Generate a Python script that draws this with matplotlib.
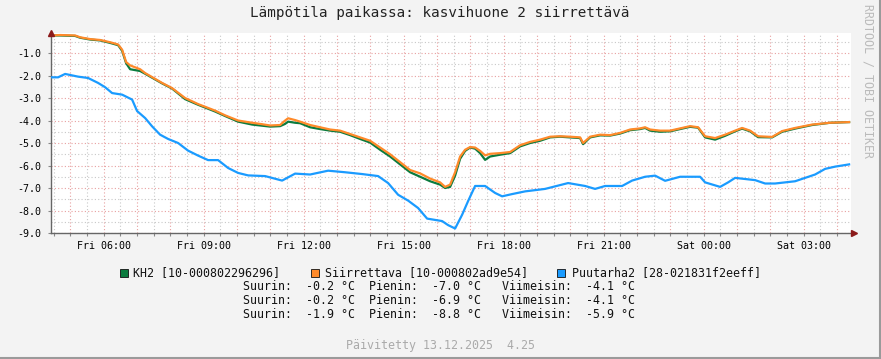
import matplotlib
matplotlib.use("Agg")
import matplotlib.pyplot as plt
from matplotlib.patches import Rectangle
from matplotlib.lines import Line2D

# hours since Fri 00:00 (graph covers Fri 04:25 -> Sat 04:25)
t_start = 4.4167
t_end = 28.4167

# KH2 and Siirrettava share sample times
t_kh = [4.42, 4.69, 5.14, 5.29, 5.59, 5.89, 6.19, 6.43, 6.55, 6.67, 6.79, 7.09,
        7.24, 7.75, 8.05, 8.44, 8.83, 9.34, 9.64, 10.03, 10.45, 10.69, 10.99,
        11.29, 11.44, 11.53, 11.74, 11.89, 12.19, 12.49, 12.79, 13.09, 13.39,
        13.69, 13.99, 14.29, 14.59, 14.89, 15.19, 15.49, 15.79, 16.09, 16.24,
        16.39, 16.54, 16.69, 16.84, 16.99, 17.14, 17.29, 17.44, 17.59, 17.89,
        18.19, 18.49, 18.79, 19.09, 19.39, 19.69, 19.99, 20.29, 20.38, 20.59,
        20.89, 21.19, 21.49, 21.79, 22.09, 22.24, 22.39, 22.69, 22.99, 23.29,
        23.59, 23.83, 24.04, 24.34, 24.64, 24.94, 25.15, 25.39, 25.63, 26.05,
        26.35, 26.74, 27.25, 27.79, 28.36]

siirrettava = [-0.22, -0.2, -0.22, -0.3, -0.38, -0.42, -0.52, -0.62, -0.85, -1.4,
               -1.55, -1.72, -1.89, -2.33, -2.56, -3.0, -3.27, -3.56, -3.77, -4.0,
               -4.1, -4.15, -4.22, -4.2, -4.0, -3.9, -3.98, -4.05, -4.2, -4.3,
               -4.4, -4.45, -4.6, -4.75, -4.9, -5.2, -5.5, -5.85, -6.2, -6.35,
               -6.58, -6.75, -6.95, -6.85, -6.3, -5.6, -5.3, -5.18, -5.2, -5.35,
               -5.55, -5.48, -5.45, -5.4, -5.1, -4.95, -4.85, -4.72, -4.7, -4.72,
               -4.75, -5.0, -4.72, -4.63, -4.65, -4.55, -4.4, -4.35, -4.3, -4.4,
               -4.45, -4.45, -4.35, -4.25, -4.3, -4.7, -4.78, -4.63, -4.45, -4.33,
               -4.45, -4.7, -4.73, -4.47, -4.33, -4.18, -4.1, -4.07]

kh2 = [-0.22, -0.22, -0.24, -0.32, -0.4, -0.44, -0.55, -0.65, -0.9, -1.45,
       -1.72, -1.8, -1.92, -2.35, -2.58, -3.05, -3.3, -3.6, -3.8, -4.05,
       -4.18, -4.22, -4.27, -4.25, -4.15, -4.05, -4.1, -4.12, -4.3, -4.38,
       -4.45, -4.5, -4.65, -4.82, -4.98, -5.3, -5.6, -5.95, -6.3, -6.5,
       -6.7, -6.85, -7.0, -6.95, -6.45, -5.7, -5.35, -5.2, -5.25, -5.45,
       -5.75, -5.6, -5.52, -5.45, -5.15, -5.0, -4.9, -4.75, -4.72, -4.75,
       -4.78, -5.05, -4.75, -4.66, -4.67, -4.58, -4.43, -4.38, -4.33, -4.45,
       -4.5, -4.48, -4.38, -4.28, -4.32, -4.75, -4.85, -4.68, -4.48, -4.36,
       -4.48, -4.74, -4.75, -4.5, -4.36, -4.2, -4.1, -4.07]

t_pu = [4.42, 4.63, 4.84, 5.23, 5.53, 5.83, 6.04, 6.25, 6.55, 6.85, 7.0, 7.24,
        7.45, 7.69, 7.93, 8.23, 8.53, 8.83, 9.13, 9.43, 9.73, 10.03, 10.33,
        10.84, 11.35, 11.74, 12.19, 12.73, 13.24, 13.75, 14.23, 14.53, 14.83,
        15.13, 15.43, 15.70, 16.15, 16.33, 16.54, 16.75, 16.93, 17.14, 17.44,
        17.74, 17.95, 18.25, 18.64, 19.24, 19.93, 20.44, 20.74, 21.04, 21.55,
        21.85, 22.24, 22.54, 22.84, 23.29, 23.89, 24.04, 24.49, 24.73, 24.94,
        25.54, 25.84, 26.14, 26.74, 27.04, 27.34, 27.64, 27.94, 28.36]

puutarha2 = [-2.08, -2.08, -1.93, -2.05, -2.11, -2.33, -2.52, -2.78, -2.85, -3.07,
             -3.58, -3.89, -4.26, -4.63, -4.82, -5.0, -5.34, -5.56, -5.76, -5.76,
             -6.11, -6.33, -6.44, -6.47, -6.67, -6.36, -6.4, -6.23, -6.3, -6.38,
             -6.47, -6.78, -7.3, -7.56, -7.89, -8.36, -8.47, -8.65, -8.8, -8.19,
             -7.58, -6.91, -6.91, -7.22, -7.37, -7.27, -7.15, -7.04, -6.78, -6.91,
             -7.04, -6.91, -6.91, -6.67, -6.5, -6.45, -6.68, -6.5, -6.5, -6.75,
             -6.95, -6.75, -6.55, -6.65, -6.8, -6.8, -6.7, -6.55, -6.4, -6.15,
             -6.05, -5.95]

tick_hours = [6, 9, 12, 15, 18, 21, 24, 27]
tick_labels = ["Fri 06:00", "Fri 09:00", "Fri 12:00", "Fri 15:00",
               "Fri 18:00", "Fri 21:00", "Sat 00:00", "Sat 03:00"]

names = ["KH2 [10-000802296296]", "Siirrettava [10-000802ad9e54]", "Puutarha2 [28-021831f2eeff]"]
colors = ["#0b7b3e", "#ff8a2a", "#1a9bff"]
stats = [("-0.2", "-7.0", "-4.1"), ("-0.2", "-6.9", "-4.1"), ("-1.9", "-8.8", "-5.9")]

W, H = 881, 359
MONO = "DejaVu Sans Mono"

fig = plt.figure(figsize=(W / 100, H / 100), dpi=100, facecolor="#f3f3f3")
ax = fig.add_axes([51 / W, 1 - 233 / H, 800 / W, 200 / H])
ax.set_facecolor("white")

# grid: minor gray every 30 min / 0.5 deg, major pink every hour / 1 deg
for h in range(5, 29):
    ax.axvline(h, color="#e8a0a0", lw=0.8, ls=(0, (1, 2)), zorder=1)
    ax.axvline(h - 0.5, color="#c8c8c8", lw=0.8, ls=(0, (1, 2)), zorder=1)
for v in range(-9, 0):
    ax.axhline(v, color="#e8a0a0", lw=0.8, ls=(0, (1, 2)), zorder=1)
    ax.axhline(v + 0.5, color="#c8c8c8", lw=0.8, ls=(0, (1, 2)), zorder=1)

ax.plot(t_kh, kh2, color=colors[0], lw=1.6, zorder=3)
ax.plot(t_kh, siirrettava, color=colors[1], lw=1.6, zorder=4)
ax.plot(t_pu, puutarha2, color=colors[2], lw=1.6, zorder=5)

ax.set_xlim(t_start, t_end)
ax.set_ylim(-9.0, -0.11)

ax.set_xticks(tick_hours)
ax.set_xticklabels(tick_labels, fontsize=7.2, family=MONO)
ax.set_xticks([h * 0.5 for h in range(9, 57)], minor=True)
ax.set_yticks(range(-9, 0))
ax.set_yticklabels(["%.1f" % v for v in range(-9, 0)], fontsize=7.2, family=MONO)
ax.tick_params(axis="both", which="both", length=2, width=0.8, color="#888888", pad=4)
ax.tick_params(axis="y", pad=5)

for s in ["top", "right"]:
    ax.spines[s].set_visible(False)
for s in ["left", "bottom"]:
    ax.spines[s].set_color("#666666")
    ax.spines[s].set_linewidth(1)

# axis arrows
ax.plot([t_start], [-0.11], marker="^", color="#8b1a1a", ms=4, clip_on=False, zorder=6)
ax.plot([t_end + 0.1], [-9.0], marker=">", color="#8b1a1a", ms=4, clip_on=False, zorder=6)


def fx(x):
    return x / W


def fy(y):
    return 1 - y / H


fig.text(fx(440), fy(13), "Lämpötila paikassa: kasvihuone 2 siirrettävä",
         family=MONO, fontsize=10.3, ha="center", va="center", color="#222222")

# legend line
leg_x = [(120, 133), (311, 325), (557, 572)]
for (sx, tx), name, c in zip(leg_x, names, colors):
    fig.add_artist(Rectangle((fx(sx), fy(277)), 8 / W, 8 / H, transform=fig.transFigure,
                             facecolor=c, edgecolor="#111111", lw=0.6))
    fig.text(fx(tx), fy(273), name, family=MONO, fontsize=8.4, ha="left", va="center",
             color="#111111")

for i, (mx, mn, last) in enumerate(stats):
    line = "Suurin:  %s °C  Pienin:  %s °C   Viimeisin:  %s °C" % (mx, mn, last)
    fig.text(fx(243), fy(287 + 14 * i), line, family=MONO, fontsize=8.4,
             ha="left", va="center", color="#111111")

fig.text(fx(440), fy(345), "Päivitetty 13.12.2025  4.25", family=MONO, fontsize=8.4,
         ha="center", va="center", color="#aaaaaa")

fig.text(fx(868), fy(81), "RRDTOOL / TOBI OETIKER", family=MONO, fontsize=8.4,
         rotation=270, ha="center", va="center", color="#bbbbbb")

# frame shading
fig.add_artist(Line2D([0, 1], [fy(358), fy(358)], transform=fig.transFigure, color="#9a9a9a", lw=1.5))
fig.add_artist(Line2D([fx(880), fx(880)], [0, 1], transform=fig.transFigure, color="#9a9a9a", lw=1.5))

fig.savefig("out.png", dpi=100, facecolor=fig.get_facecolor())
